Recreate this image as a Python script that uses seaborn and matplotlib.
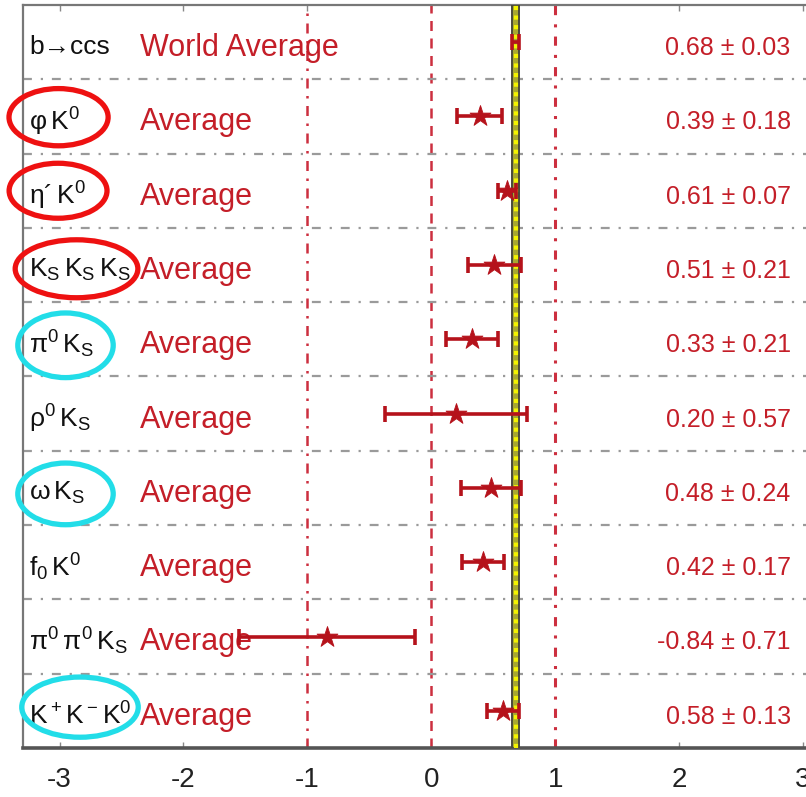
import matplotlib
matplotlib.use("Agg")
import matplotlib.pyplot as plt
import seaborn as sns
import pandas as pd
from matplotlib.patches import Ellipse

# ---------------- data ----------------
channels = [r"b→ccs", r"$\mathregular{φ\,K^0}$", r"$\mathregular{η´\,K^0}$",
            r"$\mathregular{K_S\,K_S\,K_S}$", r"$\mathregular{π^0\,K_S}$",
            r"$\mathregular{ρ^0\,K_S}$", r"$\mathregular{ω\,K_S}$",
            r"$\mathregular{f_0\,K^0}$", r"$\mathregular{π^0\,π^0\,K_S}$",
            r"$\mathregular{K^+K^-K^0}$"]
names = ["World Average"] + ["Average"] * 9
values = [0.68, 0.39, 0.61, 0.51, 0.33, 0.20, 0.48, 0.42, -0.84, 0.58]
errors = [0.03, 0.18, 0.07, 0.21, 0.21, 0.57, 0.24, 0.17, 0.71, 0.13]
value_text = ["0.68 ± 0.03", "0.39 ± 0.18", "0.61 ± 0.07", "0.51 ± 0.21",
              "0.33 ± 0.21", "0.20 ± 0.57", "0.48 ± 0.24", "0.42 ± 0.17",
              "-0.84 ± 0.71", "0.58 ± 0.13"]
world_avg = 0.68
world_err = 0.03
xticks = [-3, -2, -1, 0, 1, 2, 3]
xticklabels = ["-3", "-2", "-1", "0", "1", "2", "3"]
# circled channels: (row, colour, x-centre, width, y-centre, height)
circles = [(1, "#ee1111", -3.008, 0.80, 1.01, 0.77),
           (2, "#ee1111", -3.012, 0.79, 2.00, 0.74),
           (3, "#ee1111", -2.863, 0.99, 3.05, 0.78),
           (4, "#22dde8", -2.952, 0.77, 4.08, 0.87),
           (6, "#22dde8", -2.952, 0.77, 6.08, 0.83),
           (9, "#22dde8", -2.835, 0.94, 8.95, 0.81)]

df = pd.DataFrame({"row": list(range(len(values))), "value": values,
                   "err": errors})

FONT = ["Liberation Sans", "DejaVu Sans"]
sns.set_theme(style="white")
plt.rcParams["font.family"] = FONT
plt.rcParams["axes.unicode_minus"] = False
plt.rcParams["mathtext.fontset"] = "custom"
plt.rcParams["mathtext.rm"] = "Liberation Sans"

DARKRED = "#b5121b"
TEXTRED = "#c41e28"

fig = plt.figure(figsize=(8.06, 7.97), dpi=100)
ax = fig.add_axes([23 / 806, 49 / 797, 783 / 806, 743 / 797])
ax.set_xlim(-3.295, 3.024)
ax.set_ylim(len(values) - 0.5, -0.5)

# world-average band
ax.axvspan(world_avg - world_err, world_avg + world_err, facecolor="#a8a830",
           edgecolor="#4a4a3a", lw=1.4, zorder=3)
ax.axvline(world_avg, color="#f4f400", lw=3, ls=(0, (1, 1.3)), zorder=4)

# reference lines
ax.axvline(-1, color="#cc2f3f", lw=1.8, ls=(0, (4, 3, 1, 3)), zorder=1)
ax.axvline(0, color="#cc2f3f", lw=1.8, ls=(0, (4, 3)), zorder=1)
ax.axvline(1, color="#cc2f3f", lw=2.2, ls=(0, (3, 3, 1, 3)), zorder=1)

# row separators
for i in range(len(values) - 1):
    ax.axhline(i + 0.5, color="#9a9a9a", lw=1.6, ls=(0, (4, 4, 1, 4)), zorder=1)

# error bars
ax.errorbar(df["value"], df["row"], xerr=df["err"], fmt="none",
            ecolor=DARKRED, elinewidth=2.6, capsize=6, capthick=2.6, zorder=5)
sns.scatterplot(data=df[df["row"] > 0], x="value", y="row", marker="*", s=250,
                color=DARKRED, edgecolor=DARKRED, linewidth=0.6, ax=ax,
                zorder=6, legend=False)

# texts
for i in range(len(values)):
    ax.text(-3.243, i + 0.07, channels[i], ha="left", va="center",
            fontsize=19, color="#111111", family=FONT, zorder=7)
    ax.text(-2.354, i + 0.08, names[i], ha="left", va="center",
            fontsize=22, color=TEXTRED, family=FONT, zorder=4)
    ax.text(2.90, i + 0.08, value_text[i], ha="right", va="center",
            fontsize=18, color=TEXTRED, family=FONT, zorder=7)

for (_, col, xc, w, yc, h) in circles:
    ax.add_patch(Ellipse((xc, yc), w, h, fill=False, edgecolor=col, lw=3.8,
                         clip_on=False, zorder=8))

# axes styling
ax.set_xticks(xticks)
ax.set_xticklabels(xticklabels, fontsize=20, family=FONT, color="#222222")
ax.set_yticks([])
ax.set_xlabel("")
ax.set_ylabel("")
ax.tick_params(axis="x", direction="in", length=4, width=1, color="#888888",
               top=True, bottom=True, pad=14)
for side in ["top", "left", "bottom"]:
    ax.spines[side].set_visible(True)
    ax.spines[side].set_color("#777777")
ax.spines["top"].set_linewidth(1.6)
ax.spines["left"].set_linewidth(1.6)
ax.spines["bottom"].set_linewidth(2.6)
ax.spines["bottom"].set_color("#555555")
ax.spines["right"].set_visible(False)

fig.savefig("out.png", dpi=100)
